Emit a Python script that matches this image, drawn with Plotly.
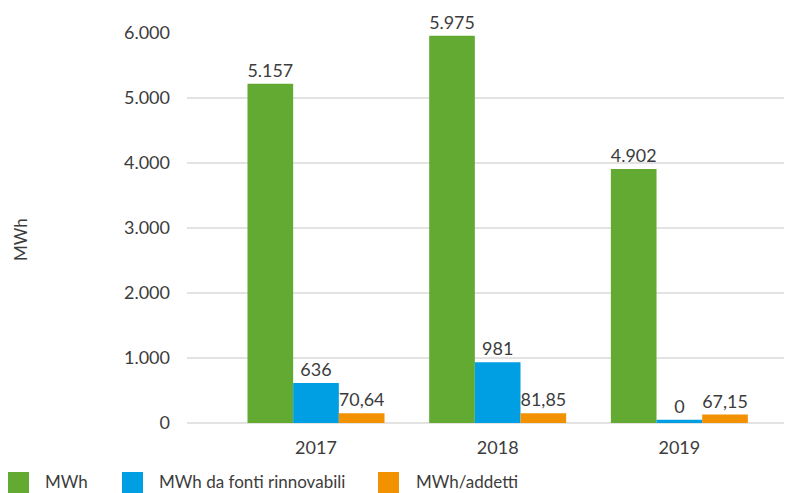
import plotly.graph_objects as go

# ---- data ----
years = ["2017", "2018", "2019"]
series_names = ["MWh", "MWh da fonti rinnovabili", "MWh/addetti"]
mwh_values = [5219, 5958, 3909]
mwh_labels = ["5.157", "5.975", "4.902"]
renew_values = [614, 934, 50]
renew_labels = ["636", "981", "0"]
addetti_values = [151, 151, 131]
addetti_labels = ["70,64", "81,85", "67,15"]
y_ticks = [0, 1000, 2000, 3000, 4000, 5000, 6000]
y_title = "MWh"

colors = ["#63AA32", "#009FE3", "#F39200"]
text_color = "#3C3C3C"
font_family = "Lato, 'Source Sans Pro', 'Noto Sans', sans-serif"

# page body has an 8px margin; figure is sized/positioned accordingly
OFF = 8
W, H = 792 - OFF, 493 - OFF
L, R, T, B = 187 - OFF, 0, 33 - OFF, 70

fig = go.Figure()
for name, vals, labs, col in zip(series_names,
                                 [mwh_values, renew_values, addetti_values],
                                 [mwh_labels, renew_labels, addetti_labels],
                                 colors):
    fig.add_trace(go.Bar(
        x=years, y=vals, name=name, text=labs,
        textposition="outside", cliponaxis=False,
        textfont=dict(size=18, color=text_color, family=font_family),
        marker=dict(color=col, line=dict(width=0)),
        showlegend=False,
    ))

plot_w = W - L - R
plot_h = H - T - B

def px_x(p):
    # p: screen pixel x
    return (p - OFF - L) / plot_w

def px_y(p):
    # p: screen pixel y
    return (H - B - (p - OFF)) / plot_h

# custom legend (squares + labels)
legend_items = [(8, 43), (122, 157), (378, 414)]
shapes = []
annotations = []
for (sx, tx), name, col in zip(legend_items, series_names, colors):
    shapes.append(dict(type="rect", xref="paper", yref="paper",
                       x0=px_x(sx), x1=px_x(sx + 21),
                       y0=px_y(493), y1=px_y(472),
                       fillcolor=col, line=dict(width=0)))
    annotations.append(dict(text=name, xref="paper", yref="paper",
                            x=px_x(tx), y=px_y(482), xanchor="left", yanchor="middle",
                            showarrow=False,
                            font=dict(size=17, color=text_color, family=font_family)))

annotations.append(dict(text=y_title, xref="paper", yref="paper",
                        x=px_x(20), y=px_y(240), xanchor="center", yanchor="middle",
                        textangle=-90, showarrow=False,
                        font=dict(size=17, color=text_color, family=font_family)))

fig.update_layout(
    width=W, height=H,
    margin=dict(l=L, r=R, t=T, b=B, pad=0),
    paper_bgcolor="white", plot_bgcolor="white",
    barmode="group", bargap=0.246, bargroupgap=0,
    separators=",.",
    font=dict(family=font_family, color=text_color, size=18),
    shapes=shapes, annotations=annotations,
    showlegend=False,
    xaxis=dict(range=[-0.71, 2.62], showgrid=False, zeroline=False,
               showline=False, ticks="", ticklabelstandoff=12,
               tickfont=dict(size=18, color=text_color)),
    yaxis=dict(range=[0, 6000], tickvals=y_ticks, tickformat=",d",
               showgrid=True, gridcolor="#E3E3E3", gridwidth=1.5,
               zeroline=True, zerolinecolor="#E3E3E3", zerolinewidth=1.5,
               showline=False, ticks="", ticklabelstandoff=16,
               tickfont=dict(size=18, color=text_color)),
)

fig.write_html("out.html")
